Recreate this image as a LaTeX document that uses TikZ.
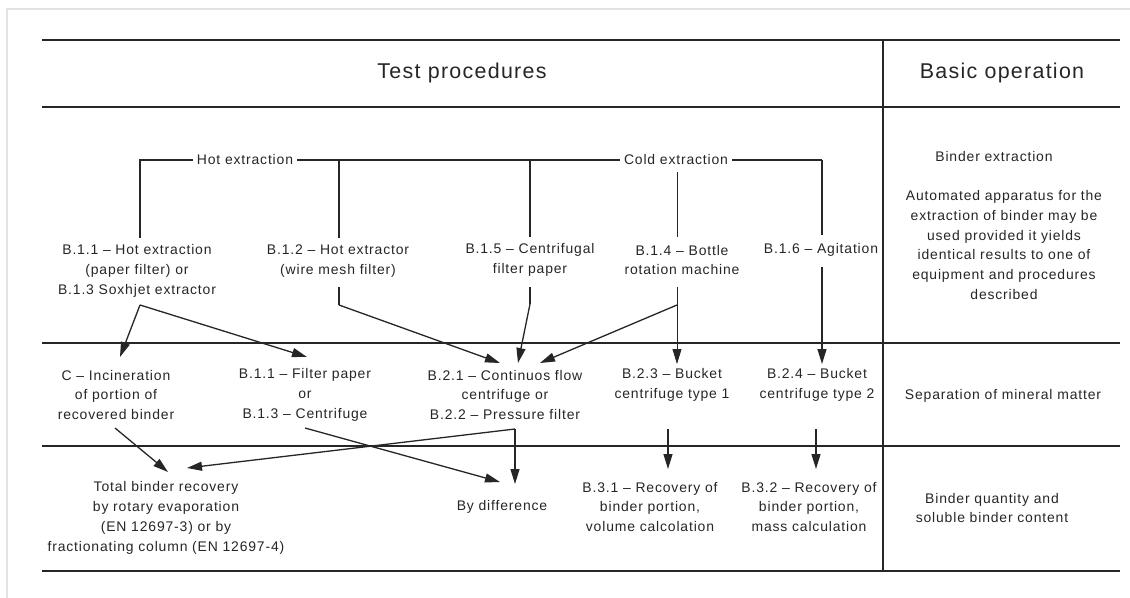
\documentclass[tikz,border=0pt]{standalone}
\usepackage{fontspec}
\setmainfont{Liberation Sans}[LetterSpace=6]
\usetikzlibrary{arrows.meta}
\definecolor{ink}{HTML}{262626}
\definecolor{framegray}{HTML}{E2E2E2}
\begin{document}
\begin{tikzpicture}[x=1bp,y=-1bp,
  lbl/.style={align=center,inner sep=0pt,text=ink,font=\fontsize{14}{20}\selectfont},
  head/.style={inner sep=0pt,text=ink,font=\fontsize{21.5}{24}\selectfont},
  tag/.style={inner sep=4bp,text=ink,font=\fontsize{14}{20}\selectfont},
  rule/.style={draw=ink,line width=1.2bp},
  conn/.style={draw=ink,line width=1.3bp},
  boldconn/.style={draw=ink,line width=2bp},
  thinconn/.style={draw=ink,line width=0.8bp},
  arr/.style={-{Triangle[length=15bp,width=9bp]}}]
\useasboundingbox (0,0) rectangle (1130,598);
\fill[white] (0,0) rectangle (1130,598);
% sheet edge
\draw[framegray,line width=2bp] (7,598) -- (7,9) -- (1130,9);

% table rules
\foreach \yy in {40,107,343,446,571} \draw[rule] (42,\yy) -- (1120,\yy);
\draw[rule] (883,40) -- (883,571);

% column headings
\node[head] (tp) at (462,73) {Test procedures};
\node[head] (bo) at (1002,73) {Basic operation};

% extraction methods
\node[tag] (hot) at (245,160) {Hot extraction};
\node[tag] (cold) at (676,160) {Cold extraction};
\node[lbl] (b111) at (137,271) {B.1.1 – Hot extraction\\(paper filter) or\\B.1.3 Soxhjet extractor};
\node[lbl] (b112) at (338,261) {B.1.2 – Hot extractor\\(wire mesh filter)};
\node[lbl] (b115) at (530,260) {B.1.5 – Centrifugal\\filter paper};
\node[lbl] (b114) at (682,260) {B.1.4 – Bottle\\rotation machine};
\node[lbl] (b116) at (821,250) {B.1.6 – Agitation};

% separation of mineral matter
\node[lbl] (inc) at (116,395) {C – Incineration\\of portion of\\recovered binder};
\node[lbl] (fp) at (305,395) {B.1.1 – Filter paper\\or\\B.1.3 – Centrifuge};
\node[lbl] (cf) at (505,395) {B.2.1 – Continuos flow\\centrifuge or\\B.2.2 – Pressure filter};
\node[lbl] (bk1) at (672,385) {B.2.3 – Bucket\\centrifuge type 1};
\node[lbl] (bk2) at (817,385) {B.2.4 – Bucket\\centrifuge type 2};

% binder quantity
\node[lbl] (tot) at (166,518) {Total binder recovery\\by rotary evaporation\\(EN 12697-3) or by\\fractionating column (EN 12697-4)};
\node[lbl] (diff) at (502,507) {By difference};
\node[lbl] (r1) at (650,507) {B.3.1 – Recovery of\\binder portion,\\volume calcolation};
\node[lbl] (r2) at (809,507) {B.3.2 – Recovery of\\binder portion,\\mass calculation};

% basic operations
\node[lbl] (be) at (994,157) {Binder extraction};
\node[lbl] (auto) at (1004,245) {Automated apparatus for the\\extraction of binder may be\\used provided it yields\\identical results to one of\\equipment and procedures\\described};
\node[lbl] (sep) at (1003,396) {Separation of mineral matter};
\node[lbl] (bq) at (992,508) {Binder quantity and\\soluble binder content};

% junction points
\coordinate (hl) at (140,160);
\coordinate (j2) at (339,160);
\coordinate (j5) at (530,160);
\coordinate (hr) at (822,160);
\coordinate (s111) at (140,305);
\coordinate (k112) at (339,305);
\coordinate (k115) at (530,304);
\coordinate (k114) at (677,305);
\coordinate (s22) at (515,429);

% extraction bracket
\draw[boldconn] (140,238) -- (hl) -- (hot.west);
\draw[boldconn] (hot.east) -- (cold.west);
\draw[boldconn] (cold.east) -- (hr);
\draw[conn] (hr) -- (822,235);
\draw[boldconn] (j2) -- (339,238);
\draw[boldconn] (j5) -- (530,237);
\draw[thinconn] (677,172) -- (677,237);

% extraction to separation
\draw[conn,arr] (s111) -- (120,357);
\draw[conn,arr] (s111) -- (307,357);
\draw[conn] (339,287) -- (k112);
\draw[conn,arr] (k112) -- (500,363);
\draw[boldconn] (530,287) -- (k115);
\draw[conn,arr] (k115) -- (518,363);
\draw[thinconn,arr] (677,287) -- (677,364);
\draw[conn,arr] (k114) -- (540,363);
\draw[conn,arr] (822,267) -- (822,364);

% separation to binder quantity
\draw[conn,arr] (115,428) -- (168,472);
\draw[conn,arr] (305,428) -- (500,482);
\draw[conn,arr] (s22) -- (515,484);
\draw[conn,arr] (s22) -- (187,468);
\draw[conn,arr] (668,429) -- (668,469);
\draw[conn,arr] (816,429) -- (816,469);
\end{tikzpicture}
\end{document}
